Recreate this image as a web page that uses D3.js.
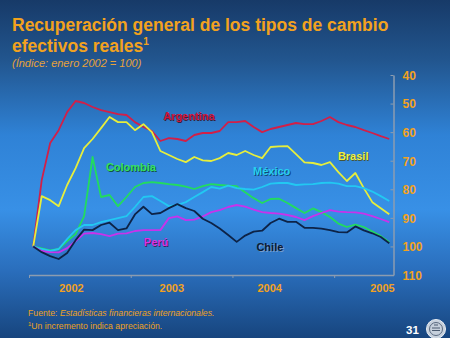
<!DOCTYPE html>
<html>
<head>
<meta charset="utf-8">
<script src="https://cdn.jsdelivr.net/npm/d3@7/dist/d3.min.js"></script>
<style>
  html, body { margin: 0; padding: 0; background: #1d4a80; }
  svg { display: block; font-family: "Liberation Sans", Arial, sans-serif; }
</style>
</head>
<body>
<svg id="chart" width="450" height="338"></svg>
<script>
// ---------- DATA (monthly, Jan 2002 onward; index: enero 2002 = 100) ----------
const months = d3.range(43); // Jan 2002 ... Jul 2005
const yearLabels = ["2002", "2003", "2004", "2005"];
const yTicks = [40, 50, 60, 70, 80, 90, 100, 110];

const argentina = [100, 76.8, 63.8, 59.3, 53.0, 49.1, 49.8, 51.2, 52.3, 53.0, 53.7, 54.0,
  56.5, 58.2, 59.6, 63.1, 62.1, 62.4, 63.1, 61.0, 60.3, 60.3, 59.6, 56.5,
  56.5, 56.1, 58.2, 60.0, 58.9, 58.2, 57.5, 56.8, 57.2, 57.2, 56.1, 54.7,
  56.5, 57.5, 58.2, 59.3, 60.3, 61.4, 62.4];
const brasil = [100, 82.4, 83.8, 85.9, 78.5, 72.6, 65.6, 62.4, 58.6, 54.7, 56.5, 56.5,
  59.3, 57.2, 60.0, 66.6, 68.0, 69.4, 70.5, 68.7, 69.9, 70.1, 69.1, 67.3,
  68.0, 66.6, 68.0, 69.1, 65.2, 65.0, 64.9, 67.7, 70.6, 70.8, 71.5, 70.5,
  74.0, 77.1, 74.3, 79.6, 84.5, 86.6, 88.7];
const colombia = [100, 100.7, 101.4, 100.9, 98.1, 95.7, 89.4, 68.7, 82.7, 82.0, 85.9, 82.7,
  79.2, 77.8, 77.5, 77.8, 78.2, 78.5, 79.1, 79.9, 78.9, 78.2, 78.5, 78.7,
  78.9, 81.0, 83.1, 84.8, 83.4, 83.3, 84.8, 86.6, 88.3, 86.7, 88.0, 89.7,
  92.0, 93.2, 92.4, 93.2, 94.8, 96.4, 98.5];
const mexico = [100, 100.9, 101.6, 100.9, 97.4, 94.3, 92.5, 92.5, 91.5, 90.8, 90.1, 89.4,
  86.2, 82.7, 82.4, 84.1, 85.9, 85.5, 84.5, 82.7, 81.0, 79.2, 79.8, 78.7,
  79.6, 79.9, 80.1, 79.2, 78.0, 77.8, 77.8, 78.5, 78.3, 78.2, 77.8, 77.7,
  78.0, 78.9, 78.9, 79.6, 80.8, 82.4, 84.1];
const peru = [100, 101.6, 102.0, 102.1, 100.6, 98.1, 95.5, 95.3, 95.7, 96.4, 95.5, 95.4,
  94.6, 94.3, 94.3, 94.3, 90.1, 89.5, 90.8, 90.6, 89.5, 88.0, 87.3, 86.2,
  85.5, 86.1, 87.1, 88.0, 88.3, 88.5, 89.0, 89.7, 90.8, 89.4, 88.3, 87.3,
  87.8, 88.0, 88.1, 88.5, 89.4, 90.4, 91.5];
const chile = [100, 102.0, 103.4, 104.4, 102.3, 97.8, 94.1, 94.3, 92.5, 91.7, 94.3, 93.7,
  88.8, 86.1, 88.7, 88.3, 86.6, 85.2, 86.6, 87.6, 90.3, 91.8, 93.7, 96.0,
  98.4, 96.2, 94.8, 94.5, 91.8, 90.3, 91.4, 91.4, 93.5, 93.5, 93.8, 94.3,
  95.0, 95.1, 93.0, 94.4, 95.4, 96.7, 98.9];

const seriesNames = ["Argentina", "Brasil", "Colombia", "México", "Perú", "Chile"];
const seriesValues = [argentina, brasil, colombia, mexico, peru, chile];

// ---------- STYLE / LAYOUT ----------
const lineColors = ["#d21f48", "#e6ee3c", "#22dc5e", "#22c8f2", "#c832ec", "#0d2347"];
const labelColors = ["#d0143c", "#eef040", "#36e060", "#26d0f0", "#dd30e0", "#0c1a33"];
const labelShadow = ["#3a0a18", "#4a4a10", "#0a4a20", "#0a3a5a", "#3a0a4a", "#8aa8cc"];
// label anchor in data units [month index, value]
const labelAt = [[15.33, 55.6], [35.94, 69.75], [8.57, 73.6], [25.93, 75.0], [13.05, 99.85], [26.33, 101.5]];
const yearLabelAt = [4.5, 16.35, 27.9, 41.2];

const svg = d3.select("#chart");

// background gradient
const defs = svg.append("defs");
const grad = defs.append("linearGradient").attr("id", "bg")
  .attr("x1", 0).attr("y1", 0).attr("x2", 0).attr("y2", 1);
[["0%", "#173a68"], ["18%", "#22568f"], ["40%", "#2f82d6"], ["62%", "#3890e6"],
 ["80%", "#2a6ebc"], ["100%", "#17457e"]].forEach(([o, c]) =>
  grad.append("stop").attr("offset", o).attr("stop-color", c));
svg.append("rect").attr("width", 450).attr("height", 338).attr("fill", "url(#bg)");

// titles
const orange = "#f2a21e";
svg.append("text").attr("x", 12).attr("y", 31)
  .attr("fill", orange).attr("font-size", 17.5).attr("font-weight", "bold")
  .text("Recuperación general de los tipos de cambio");
const t2 = svg.append("text").attr("x", 12).attr("y", 51.5)
  .attr("fill", orange).attr("font-size", 17.5).attr("font-weight", "bold");
t2.append("tspan").text("efectivos reales");
t2.append("tspan").attr("font-size", 10).attr("dy", -7).text("1");
svg.append("text").attr("x", 12).attr("y", 66.5)
  .attr("fill", "#e6a23a").attr("font-size", 11).attr("font-style", "italic")
  .text("(Índice: enero 2002 = 100)");

// scales
const x = d3.scaleLinear().domain([-0.5, 42.5]).range([29, 393.5]);
const y = d3.scaleLinear().domain([40, 110]).range([75, 275]);

// axes
const axisColor = "#8c9cb0";
const yAxis = svg.append("g").attr("transform", `translate(${x(42.5)},0)`)
  .call(d3.axisRight(y).tickValues(yTicks).tickSizeInner(-3).tickSizeOuter(0).tickPadding(9));
yAxis.select(".domain").attr("stroke", axisColor).attr("stroke-width", 1.5);
yAxis.selectAll(".tick line").attr("stroke", axisColor);
yAxis.selectAll(".tick text").attr("fill", orange).attr("font-size", 12)
  .attr("font-weight", "bold").attr("font-family", "Liberation Sans, Arial, sans-serif")
  .attr("dy", "0.36em");

const xAxis = svg.append("g").attr("transform", `translate(0,${y(110)})`)
  .call(d3.axisBottom(x).tickValues([-0.5, 11.5, 23.5, 35.5]).tickSize(3).tickSizeOuter(0).tickFormat(""));
xAxis.select(".domain").attr("stroke", axisColor).attr("stroke-width", 1.5);
xAxis.selectAll(".tick line").attr("stroke", axisColor);

svg.append("g").selectAll("text").data(yearLabels).join("text")
  .attr("x", (d, i) => x(yearLabelAt[i])).attr("y", y(110) + 17)
  .attr("text-anchor", "middle").attr("fill", orange)
  .attr("font-size", 11).attr("font-weight", "bold").text(d => d);

// lines
const line = d3.line().x((d, i) => x(months[i])).y(d => y(d));
svg.append("g").selectAll("path").data(seriesValues).join("path")
  .attr("d", d => line(d)).attr("fill", "none")
  .attr("stroke", (d, i) => lineColors[i]).attr("stroke-width", 1.8)
  .attr("stroke-linejoin", "round");

// series labels (with drop shadow)
const lab = svg.append("g").attr("font-size", 11).attr("font-weight", "bold");
lab.selectAll("text.sh").data(seriesNames).join("text").attr("class", "sh")
  .attr("x", (d, i) => x(labelAt[i][0]) + 1).attr("y", (d, i) => y(labelAt[i][1]) + 1)
  .attr("fill", (d, i) => labelShadow[i]).attr("opacity", 0.8).text(d => d);
lab.selectAll("text.fg").data(seriesNames).join("text").attr("class", "fg")
  .attr("x", (d, i) => x(labelAt[i][0])).attr("y", (d, i) => y(labelAt[i][1]))
  .attr("fill", (d, i) => labelColors[i]).text(d => d);

// footer
const f1 = svg.append("text").attr("x", 28).attr("y", 316).attr("fill", "#eea21e").attr("font-size", 8.7);
f1.append("tspan").text("Fuente: ");
f1.append("tspan").attr("font-style", "italic").text("Estadísticas financieras internacionales.");
const f2 = svg.append("text").attr("x", 28).attr("y", 328.5).attr("fill", "#eea21e").attr("font-size", 8.7);
f2.append("tspan").attr("font-size", 6).attr("dy", -3).text("1");
f2.append("tspan").attr("dy", 3).text("Un incremento indica apreciación.");

// page number and seal
svg.append("text").attr("x", 406).attr("y", 333.5).attr("fill", "#ffffff")
  .attr("font-size", 11.5).attr("font-weight", "bold").text("31");
const seal = svg.append("g").attr("transform", "translate(436,329)");
seal.append("circle").attr("r", 9.5).attr("fill", "#c6d0dc").attr("stroke", "#e8eef4").attr("stroke-width", 1);
seal.append("circle").attr("r", 6.5).attr("fill", "none").attr("stroke", "#5a6a80").attr("stroke-width", 1);
seal.append("path").attr("d", "M-4,-1 L4,-1 M-4,1.5 L4,1.5 M-2,-4 L2,-4").attr("stroke", "#4a5a70").attr("stroke-width", 1);
</script>
</body>
</html>
